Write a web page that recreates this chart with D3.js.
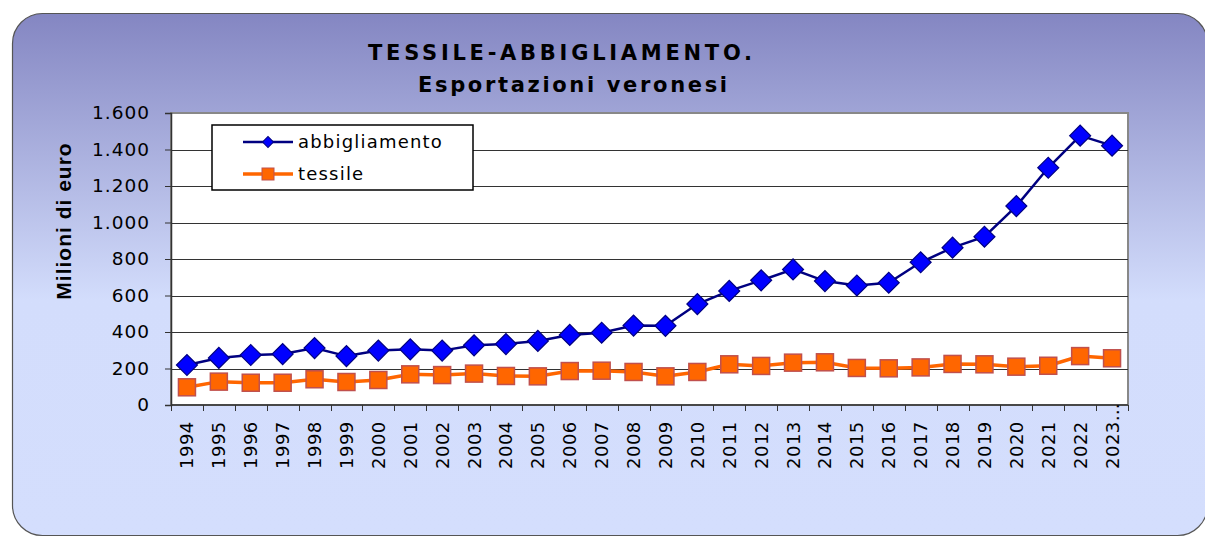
<!DOCTYPE html>
<html>
<head>
<meta charset="utf-8">
<script src="https://cdn.jsdelivr.net/npm/d3@7"></script>
<style>
  body { margin: 0; background: #fff; }
  svg { display: block; font-family: "DejaVu Sans", Verdana, sans-serif; }
</style>
</head>
<body>
<div id="canvas"></div>
<script>
const canvas = d3.select("#canvas");

const years = ["1994","1995","1996","1997","1998","1999","2000","2001","2002","2003",
    "2004","2005","2006","2007","2008","2009","2010","2011","2012","2013",
    "2014","2015","2016","2017","2018","2019","2020","2021","2022","2023…"];

const abbigliamento = [219, 258, 274, 279, 312, 268, 298, 305, 298, 327,
    334, 351, 384, 396, 435, 434, 553, 625, 683, 743,
    679, 655, 670, 782, 862, 922, 1090, 1300, 1476, 1421];

const tessile = [97, 128, 122, 122, 141, 126, 137, 168, 164, 172,
    159, 157, 186, 188, 181, 157, 181, 223, 214, 232,
    234, 203, 201, 206, 225, 223, 210, 215, 268, 256];

const yTicks = [0, 200, 400, 600, 800, 1000, 1200, 1400, 1600];

const width = 1205;
const height = 537;
const margin = { top: 113, left: 171, bottom: 132, right: 77 };
const iwidth = width - margin.left - margin.right;
const iheight = height - margin.top - margin.bottom;

const svg = canvas.append("svg")
    .attr("width", width)
    .attr("height", height);

// background gradient
const grad = svg.append("defs").append("linearGradient")
    .attr("id", "bg")
    .attr("x1", 0).attr("y1", 0).attr("x2", 0).attr("y2", 1);
grad.append("stop").attr("offset", "0%").attr("stop-color", "#8486c2");
grad.append("stop").attr("offset", "55%").attr("stop-color", "#d3ddfc");
grad.append("stop").attr("offset", "100%").attr("stop-color", "#d4defd");

svg.append("rect")
    .attr("x", 12.5).attr("y", 13.5)
    .attr("width", 1195).attr("height", 522)
    .attr("rx", 30).attr("ry", 30)
    .style("fill", "url(#bg)")
    .style("stroke", "#555")
    .style("stroke-width", 1.2);

// titles
svg.append("text")
    .attr("x", 368).attr("y", 60)
    .attr("textLength", 384)
    .attr("lengthAdjust", "spacing")
    .style("font-weight", "bold")
    .style("font-size", "21px")
    .text("TESSILE-ABBIGLIAMENTO.");
svg.append("text")
    .attr("x", 418).attr("y", 92)
    .attr("textLength", 309)
    .attr("lengthAdjust", "spacing")
    .style("font-weight", "bold")
    .style("font-size", "21px")
    .text("Esportazioni veronesi");

const g = svg.append("g").attr("transform", `translate(${margin.left},${margin.top})`);

const x = d3.scaleBand()
    .domain(years)
    .range([0, iwidth]);

const y = d3.scaleLinear()
    .domain([0, 1600])
    .range([iheight, 0]);

// plot area
g.append("rect")
    .attr("width", iwidth).attr("height", iheight)
    .style("fill", "#fff")
    .style("stroke", "#888")
    .style("stroke-width", 2);

// gridlines
g.append("g")
    .selectAll("line")
    .data(yTicks.filter(d => d > 0 && d < 1600))
    .enter().append("line")
    .attr("x1", 0).attr("x2", iwidth)
    .attr("y1", d => Math.round(y(d)) + 0.5)
    .attr("y2", d => Math.round(y(d)) + 0.5)
    .style("stroke", "#333")
    .style("stroke-width", 1);

const it = d3.formatLocale({ decimal: ",", thousands: ".", grouping: [3], currency: ["€", ""] });
const fmt = it.format(",d");

const yAxis = g.append("g")
    .classed("y--axis", true)
    .call(d3.axisLeft(y).tickValues(yTicks).tickFormat(fmt).tickSize(6).tickPadding(15));
yAxis.select(".domain").style("stroke", "#333").style("stroke-width", 1.5);
yAxis.selectAll(".tick line").style("stroke", "#333");
yAxis.selectAll("text")
    .style("font-size", "18.5px")
    .style("letter-spacing", "1px")
    .style("fill", "#000")
    .style("font-family", "\"DejaVu Sans\", Verdana, sans-serif");

// x axis with ticks between categories
const xAxis = g.append("g")
    .classed("x--axis", true)
    .attr("transform", `translate(0, ${iheight})`);
xAxis.append("line")
    .attr("x1", 0).attr("x2", iwidth)
    .style("stroke", "#333").style("stroke-width", 1.5);
xAxis.selectAll("line.tk")
    .data(years)
    .enter().append("line")
    .attr("class", "tk")
    .attr("x1", d => Math.round(x(d)) + 0.5)
    .attr("x2", d => Math.round(x(d)) + 0.5)
    .attr("y1", 0).attr("y2", 6)
    .style("stroke", "#333");
xAxis.append("line")
    .attr("x1", iwidth + 0.5).attr("x2", iwidth + 0.5)
    .attr("y1", 0).attr("y2", 6)
    .style("stroke", "#333");
xAxis.selectAll("text")
    .data(years)
    .enter().append("text")
    .attr("transform", d => `translate(${x(d) + x.bandwidth() / 2},64) rotate(-90)`)
    .attr("text-anchor", "start")
    .attr("dy", "0.36em")
    .style("font-size", "18px")
    .style("letter-spacing", "0.5px")
    .text(d => d);

// axis title
svg.append("text")
    .attr("transform", "translate(71,221) rotate(-90)")
    .attr("text-anchor", "middle")
    .style("font-family", "\"Liberation Sans\", Arial, sans-serif")
    .style("font-weight", "bold")
    .style("font-size", "21px")
    .style("letter-spacing", "1px")
    .text("Milioni di euro");

const cx = (d, i) => x(years[i]) + x.bandwidth() / 2;

const line = d3.line()
    .x((d, i) => cx(d, i))
    .y(d => y(d));

// tessile
g.append("path")
    .datum(tessile)
    .attr("d", line)
    .style("fill", "none")
    .style("stroke", "#ff6600")
    .style("stroke-width", 3.5);
g.selectAll("rect.tess")
    .data(tessile)
    .enter().append("rect")
    .attr("class", "tess")
    .attr("x", (d, i) => cx(d, i) - 8.5)
    .attr("y", d => y(d) - 8.5)
    .attr("width", 17).attr("height", 17)
    .style("fill", "#ff6600")
    .style("stroke", "#c0504d")
    .style("stroke-width", 1.5);

// abbigliamento
g.append("path")
    .datum(abbigliamento)
    .attr("d", line)
    .style("fill", "none")
    .style("stroke", "#000080")
    .style("stroke-width", 2.5);
g.selectAll("path.abb")
    .data(abbigliamento)
    .enter().append("path")
    .attr("class", "abb")
    .attr("d", d3.symbol().type(d3.symbolSquare).size(220))
    .attr("transform", (d, i) => `translate(${cx(d, i)},${y(d)}) rotate(45)`)
    .style("fill", "#0000ff")
    .style("stroke", "#000080")
    .style("stroke-width", 1.2);

// legend
const lg = svg.append("g").attr("transform", "translate(212,125)");
lg.append("rect")
    .attr("width", 261).attr("height", 65)
    .style("fill", "#fff")
    .style("stroke", "#000")
    .style("stroke-width", 1.5);
const legendItems = [
    { name: "abbigliamento", color: "#000080", w: 2.5 },
    { name: "tessile", color: "#ff6600", w: 3.5 }
];
legendItems.forEach((d, i) => {
    const ly = 17 + i * 32;
    lg.append("line")
        .attr("x1", 31).attr("x2", 81)
        .attr("y1", ly).attr("y2", ly)
        .style("stroke", d.color)
        .style("stroke-width", d.w);
    if (i === 0) {
        lg.append("path")
            .attr("d", d3.symbol().type(d3.symbolSquare).size(60))
            .attr("transform", `translate(56,${ly}) rotate(45)`)
            .style("fill", "#0000ff")
            .style("stroke", "#000080");
    } else {
        lg.append("rect")
            .attr("x", 50).attr("y", ly - 6)
            .attr("width", 12).attr("height", 12)
            .style("fill", "#ff6600")
            .style("stroke", "#c0504d");
    }
    lg.append("text")
        .attr("x", 86).attr("y", ly + 6)
        .style("font-size", "18px")
        .style("letter-spacing", "1.2px")
        .text(d.name);
});
</script>
</body>
</html>
